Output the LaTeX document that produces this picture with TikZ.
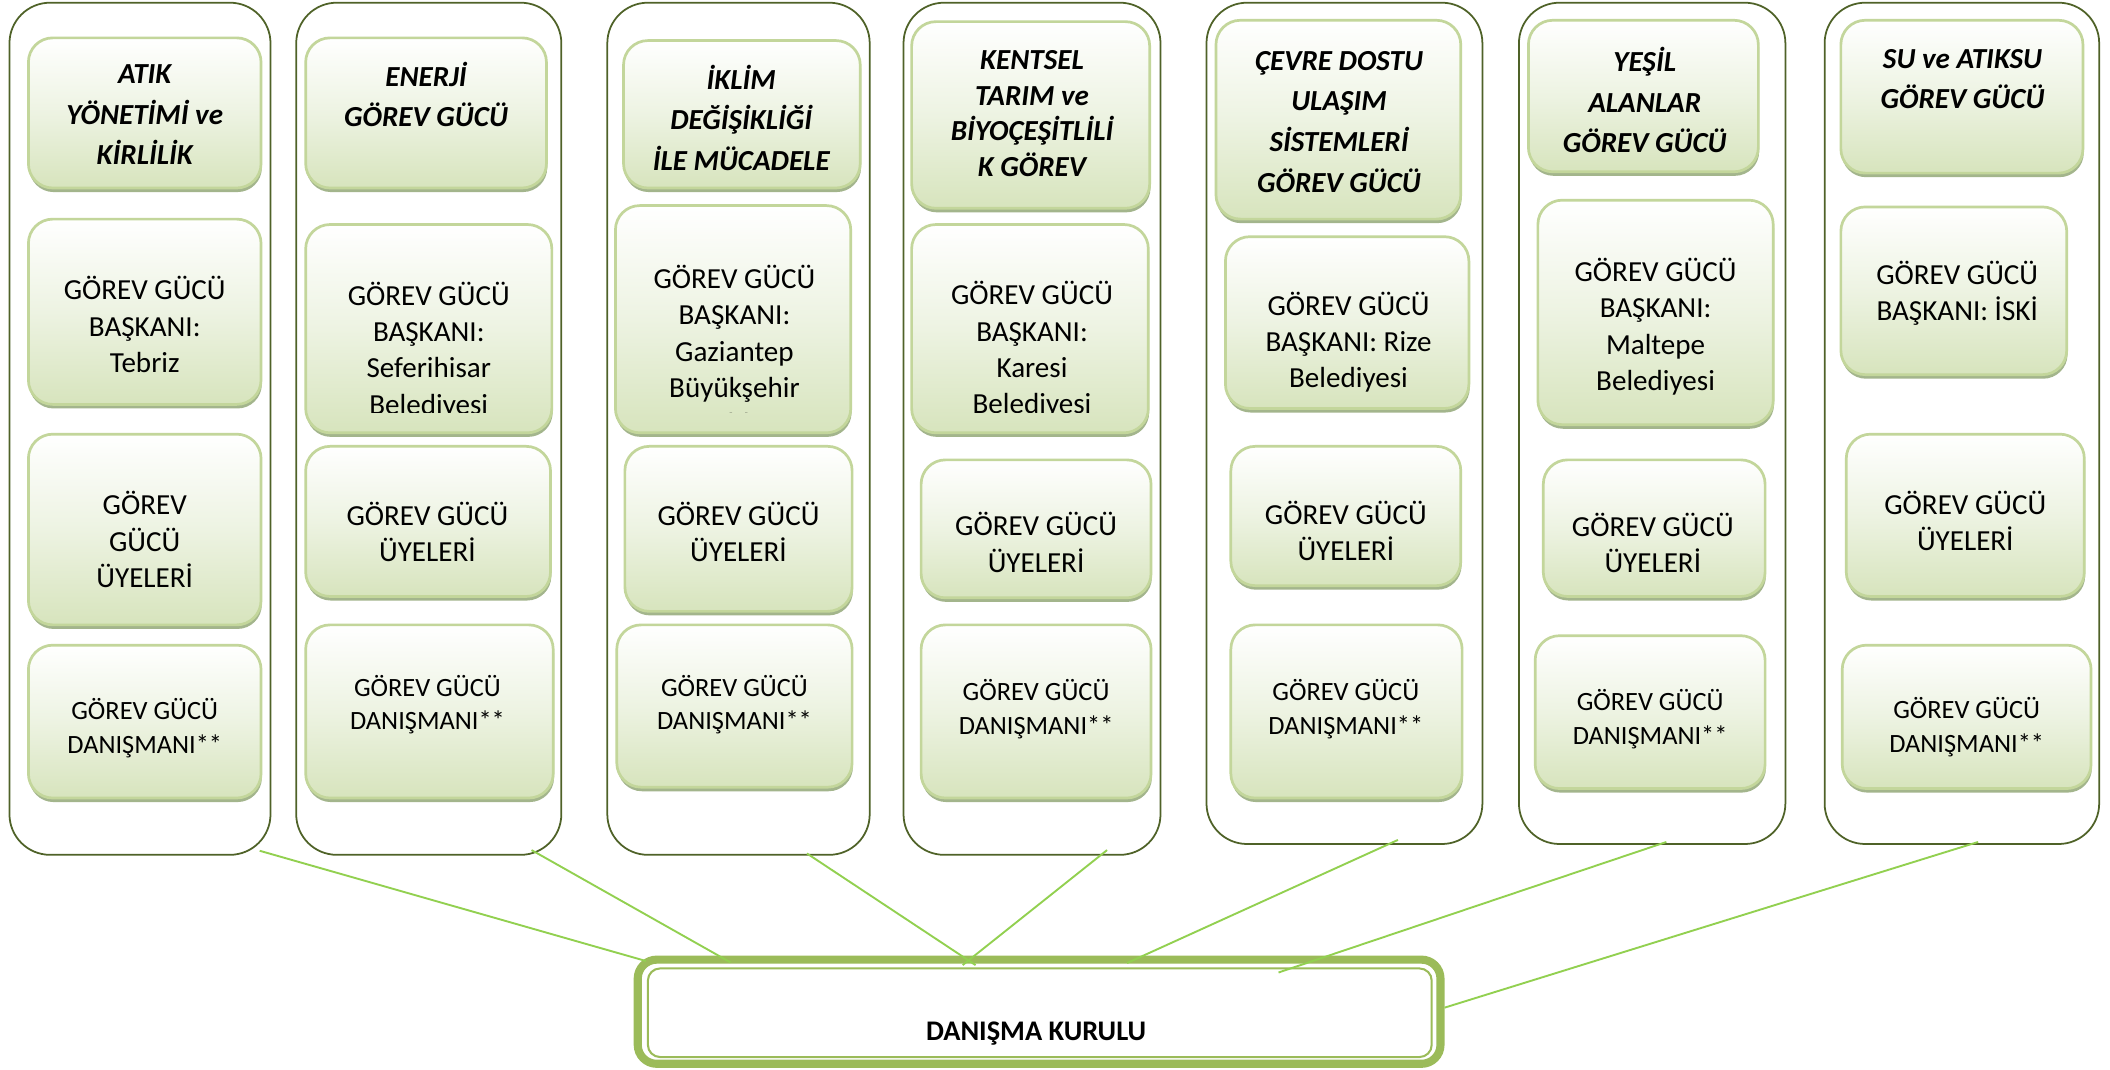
\documentclass[tikz,border=0pt]{standalone}
\usepackage{fontspec}
\setmainfont{Carlito}
\usetikzlibrary{shadows,calc}
\definecolor{colborder}{HTML}{4F6228}
\definecolor{iborder}{HTML}{C3D69B}
\definecolor{ifill}{HTML}{D7E4BD}
\definecolor{imid}{HTML}{EDF3E2}
\definecolor{shad}{HTML}{A3B58C}
\definecolor{conn}{HTML}{92D050}
\definecolor{dkg}{HTML}{9BBB59}
\tikzset{
 colbox/.style={draw=colborder, line width=1.3pt, rounded corners=30pt, fill=white, inner sep=0pt, outer sep=0pt},
 ibox/.style={draw=iborder, line width=2pt, rounded corners=18pt, top color=white, bottom color=ifill, middle color=imid, inner sep=0pt, outer sep=0pt, drop shadow={shadow xshift=0.6pt, shadow yshift=-3pt, fill=shad, opacity=1}},
 ttl/.style={font=\fontsize{21.5}{30}\selectfont\bfseries\itshape, align=center, inner sep=0pt},
 btx/.style={font=\fontsize{21.5}{26.8}\selectfont, align=center, inner sep=0pt},
 dtx/.style={font=\fontsize{19.5}{25}\selectfont, align=center, inner sep=0pt},
 dkbox/.style={draw=dkg, line width=6pt, rounded corners=14pt, fill=white, inner sep=0pt, outer sep=0pt},
 conline/.style={draw=conn, line width=1.4pt},
}
\newcommand\gbox[5]{\node[ibox, minimum width={(#4-#2)*1pt}, minimum height={(#5-#3)*1pt}] (#1) at ({(#2+#4)/2},{(#3+#5)/2}) {};}
\newcommand\cbox[5]{\node[colbox, minimum width={(#4-#2)*1pt}, minimum height={(#5-#3)*1pt}] (#1) at ({(#2+#4)/2},{(#3+#5)/2}) {};}
\begin{document}
\begin{tikzpicture}[x=1pt,y=-1pt]
\useasboundingbox (0,0) rectangle (1560,791);
% columns
\cbox{col1}{7}{2}{200}{632}
\cbox{col2}{219}{2}{415}{632}
\cbox{col3}{449}{2}{643}{632}
\cbox{col4}{668}{2}{858}{632}
\cbox{col5}{892}{2}{1096}{624}
\cbox{col6}{1123}{2}{1320}{624}
\cbox{col7}{1349}{2}{1552}{624}
% column 1
\gbox{c1a}{21}{28}{193}{139}
\node[ttl] (c1at) at (107,85) {ATIK\\YÖNETİMİ ve\\KİRLİLİK};
\gbox{c1b}{21}{162}{193}{299}
\node[btx] (c1bt) at (107,240) {GÖREV GÜCÜ\\BAŞKANI:\\Tebriz};
\gbox{c1c}{21}{321}{193}{462}
\node[btx] (c1ct) at (107,399) {GÖREV\\GÜCÜ\\ÜYELERİ};
\gbox{c1d}{21}{477}{193}{590}
\node[dtx] (c1dt) at (107,538.5) {GÖREV GÜCÜ\\DANIŞMANI**};
% column 2
\gbox{c2a}{226}{28}{404}{139}
\node[ttl] (c2at) at (315,70) {ENERJİ\\GÖREV GÜCÜ};
\gbox{c2b}{226}{166}{408}{320}
\begin{scope}
\clip (226,166) rectangle (408,305);
\node[btx] (c2bt) at (317,259) {GÖREV GÜCÜ\\BAŞKANI:\\Seferihisar\\Belediyesi};
\end{scope}
\gbox{c2c}{226}{330}{407}{441}
\node[btx] (c2ct) at (316,393.5) {GÖREV GÜCÜ\\ÜYELERİ};
\gbox{c2d}{226}{462}{409}{590}
\node[dtx] (c2dt) at (316,521) {GÖREV GÜCÜ\\DANIŞMANI**};
% column 3
\gbox{c3a}{461}{30}{636}{139}
\node[ttl] (c3at) at (548,87) {İKLİM\\DEĞİŞİKLİĞİ\\İLE MÜCADELE};
\gbox{c3b}{455}{152}{629}{320}
\begin{scope}
\clip (455,152) rectangle (629,305);
\node[btx] (c3bt) at (543,258.5) {GÖREV GÜCÜ\\BAŞKANI:\\Gaziantep\\Büyükşehir\\Bld.};
\end{scope}
\gbox{c3c}{462}{330}{630}{452}
\node[btx] (c3ct) at (546,393.5) {GÖREV GÜCÜ\\ÜYELERİ};
\gbox{c3d}{456}{462}{630}{582}
\node[dtx] (c3dt) at (543,521) {GÖREV GÜCÜ\\DANIŞMANI**};
% column 4
\gbox{c4a}{674}{16}{850}{154}
\node[ttl, font=\fontsize{21.5}{26.5}\selectfont\bfseries\itshape] (c4at) at (763,84) {KENTSEL\\TARIM ve\\BİYOÇEŞİTLİLİ\\K GÖREV};
\gbox{c4b}{674}{166}{849}{320}
\begin{scope}
\clip (674,166) rectangle (849,305);
\node[btx] (c4bt) at (763,258.75) {GÖREV GÜCÜ\\BAŞKANI:\\Karesi\\Belediyesi};
\end{scope}
\gbox{c4c}{681}{340}{851}{442}
\node[btx] (c4ct) at (766,401) {GÖREV GÜCÜ\\ÜYELERİ};
\gbox{c4d}{681}{462}{851}{590}
\node[dtx] (c4dt) at (766,524) {GÖREV GÜCÜ\\DANIŞMANI**};
% column 5
\gbox{c5a}{899}{15}{1080}{162}
\node[ttl] (c5at) at (990,90) {ÇEVRE DOSTU\\ULAŞIM\\SİSTEMLERİ\\GÖREV GÜCÜ};
\gbox{c5b}{906}{175}{1086}{302}
\node[btx] (c5bt) at (997,253) {GÖREV GÜCÜ\\BAŞKANI: Rize\\Belediyesi};
\gbox{c5c}{910}{330}{1080}{433}
\node[btx] (c5ct) at (995,392.5) {GÖREV GÜCÜ\\ÜYELERİ};
\gbox{c5d}{910}{462}{1081}{590}
\node[dtx] (c5dt) at (995,524) {GÖREV GÜCÜ\\DANIŞMANI**};
% column 6
\gbox{c6a}{1130}{15}{1300}{127}
\node[ttl] (c6at) at (1216,74) {YEŞİL\\ALANLAR\\GÖREV GÜCÜ};
\gbox{c6b}{1137}{148}{1311}{314}
\node[btx] (c6bt) at (1224,241.5) {GÖREV GÜCÜ\\BAŞKANI:\\Maltepe\\Belediyesi};
\gbox{c6c}{1141}{340}{1305}{441}
\node[btx] (c6ct) at (1222,401.5) {GÖREV GÜCÜ\\ÜYELERİ};
\gbox{c6d}{1135}{470}{1305}{583}
\node[dtx] (c6dt) at (1220,531.5) {GÖREV GÜCÜ\\DANIŞMANI**};
% column 7
\gbox{c7a}{1361}{15}{1540}{128}
\node[ttl] (c7at) at (1451,58.5) {SU ve ATIKSU\\GÖREV GÜCÜ};
\gbox{c7b}{1361}{153}{1528}{277}
\node[btx] (c7bt) at (1447,217) {GÖREV GÜCÜ\\BAŞKANI: İSKİ};
\gbox{c7c}{1365}{321}{1541}{441}
\node[btx] (c7ct) at (1453,385) {GÖREV GÜCÜ\\ÜYELERİ};
\gbox{c7d}{1362}{477}{1546}{583}
\node[dtx] (c7dt) at (1454,537.5) {GÖREV GÜCÜ\\DANIŞMANI**};
% advisory board
\node[dkbox, minimum width=593.5pt, minimum height=77pt] (dk) at (768.25,748) {};
\draw[dkg, line width=1.5pt, rounded corners=9pt] ([xshift=7.5pt,yshift=-6.5pt]dk.north west) rectangle ([xshift=-6.5pt,yshift=5pt]dk.south east);
\node[font=\fontsize{21}{25}\selectfont\bfseries, inner sep=0pt] (dkt) at (766,764) {DANIŞMA KURULU};
% connectors
\draw[conline] ([xshift=-8pt,yshift=3pt]col1.south east) -- ([xshift=6pt,yshift=-1pt]dk.north west);
\draw[conline] ([xshift=-22pt,yshift=3.5pt]col2.south east) -- ([xshift=68.5pt,yshift=-2pt]dk.north west);
\draw[conline] ([xshift=50.6pt,yshift=1pt]col3.south) -- ([xshift=-47pt,yshift=-4pt]dk.north);
\draw[conline] ([xshift=55.5pt,yshift=3.5pt]col4.south) -- ([xshift=-56.5pt,yshift=-4pt]dk.north);
\draw[conline] ([xshift=39.5pt,yshift=3pt]col5.south) -- ([xshift=65pt,yshift=-2.5pt]dk.north);
\draw[conline] ([xshift=10.5pt,yshift=1.5pt]col6.south) -- ([xshift=177pt,yshift=-9.5pt]dk.north);
\draw[conline] ([xshift=12pt,yshift=1.5pt]col7.south) -- ([xshift=3pt,yshift=3pt]dk.east);
\end{tikzpicture}
\end{document}
